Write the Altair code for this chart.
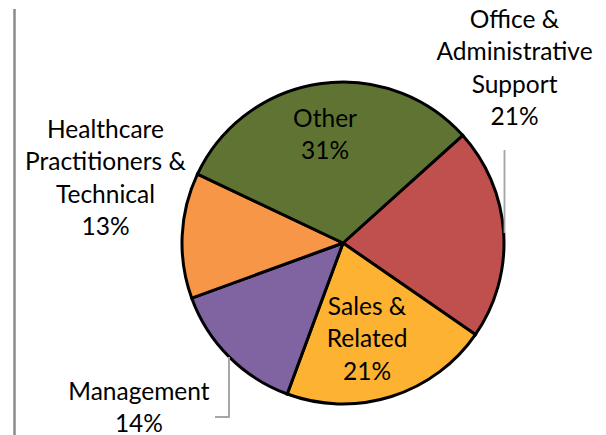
import math
import altair as alt
import pandas as pd

# ---- data ----
categories = ["Office & Administrative Support", "Sales & Related", "Management",
              "Healthcare Practitioners & Technical", "Other"]
display_names = ["Office &\nAdministrative\nSupport", "Sales &\nRelated", "Management",
                 "Healthcare\nPractitioners &\nTechnical", "Other"]
shares = [21.3, 21.0, 13.8, 12.6, 31.3]
pct_labels = ["21%", "21%", "14%", "13%", "31%"]

# ---- style / layout ----
colors = ["#C0504D", "#FDB232", "#8064A2", "#F79646", "#5F7432"]
start_deg = 48.0
# polar position (from pie centre) of each label's first line
label_angle_deg = [37.7, 159.7, 233.7, 295.25, 351.7]
label_radius = [280.5, 69.3, 253.2, 262.6, 124.3]
CX, CY, R = 335, 234, 161

df = pd.DataFrame({
    "category": categories,
    "share": shares,
    "idx": list(range(len(categories))),
    "label": [n + "\n" + p for n, p in zip(display_names, pct_labels)],
    "langle": [math.radians(a) for a in label_angle_deg],
    "lrad": label_radius,
})

start = math.radians(start_deg)

pie = alt.Chart(df).mark_arc(radius=R, stroke="black", strokeWidth=3).encode(
    theta=alt.Theta("share:Q", stack=True, scale=alt.Scale(range=[start, start + 2 * math.pi])),
    color=alt.Color("category:N", scale=alt.Scale(domain=categories, range=colors), legend=None),
    order=alt.Order("idx:Q"),
    x=alt.value(CX),
    y=alt.value(CY),
)

labels = alt.Chart(df).mark_text(
    font="Lato", fontSize=24.5, lineHeight=32.3, lineBreak="\n",
    align="center", baseline="middle", color="black"
).encode(
    text="label:N",
    theta=alt.Theta("langle:Q", stack=False, scale=None),
    radius=alt.Radius("lrad:Q", scale=None),
    x=alt.value(CX),
    y=alt.value(CY),
)

lead_color = "#A6A6A6"
office_lead = alt.Chart(df).mark_rule(color=lead_color, strokeWidth=1.2).encode(
    x=alt.value(496.5), y=alt.value(141), y2=alt.value(224)
)
mgmt_lead_v = alt.Chart(df).mark_rule(color=lead_color, strokeWidth=1.2).encode(
    x=alt.value(221), y=alt.value(348), y2=alt.value(408)
)
mgmt_lead_h = alt.Chart(df).mark_rule(color=lead_color, strokeWidth=1.2).encode(
    x=alt.value(207), x2=alt.value(221.5), y=alt.value(408)
)
border = alt.Chart(df).mark_rule(color="#8C8C8C", strokeWidth=1.5).encode(
    x=alt.value(6.5), y=alt.value(0), y2=alt.value(427)
)

chart = alt.layer(border, pie, office_lead, mgmt_lead_v, mgmt_lead_h, labels).resolve_scale(
    theta="independent", radius="independent"
).properties(width=590, height=427, padding=0).configure_view(stroke=None)

chart.save("out.html", embed_options={"renderer": "svg", "actions": False})
